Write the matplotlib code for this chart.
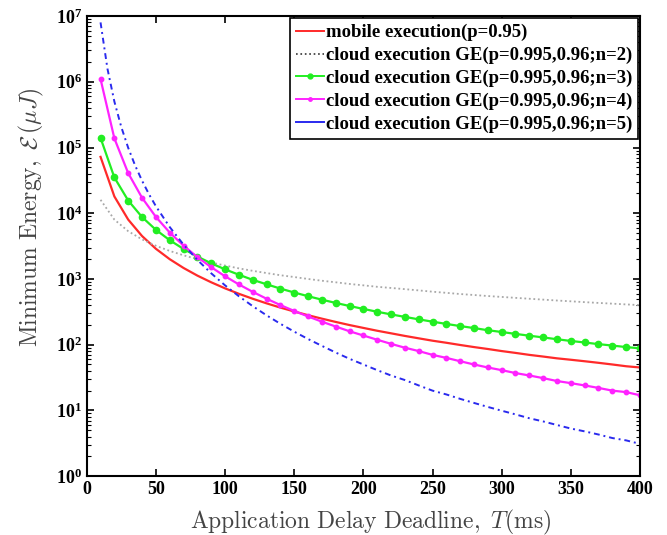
import matplotlib

matplotlib.use("Agg")

import matplotlib.pyplot as plt
from matplotlib.lines import Line2D
from matplotlib.ticker import LogLocator, NullFormatter, MultipleLocator

# deadline T (ms), one sample every 10 ms
deadline_ms = [10, 20, 30, 40, 50, 60, 70, 80, 90, 100,
               110, 120, 130, 140, 150, 160, 170, 180, 190, 200,
               210, 220, 230, 240, 250, 260, 270, 280, 290, 300,
               310, 320, 330, 340, 350, 360, 370, 380, 390, 400]

# values (log scale, uJ)
mobile_p095 = [72000, 18000, 8000, 4500, 2880, 2000, 1470, 1125, 890, 720,
               595, 500, 426, 367, 320, 281, 249, 222, 199, 180,
               163, 149, 136, 125, 115, 107, 99, 92, 86, 80,
               75, 70, 66, 62, 59, 56, 53, 50, 47, 45]
cloud_n2 = [16000, 8000, 5330, 4000, 3200, 2670, 2290, 2000, 1780, 1600,
            1450, 1330, 1230, 1140, 1070, 1000, 940, 890, 840, 800,
            760, 730, 700, 670, 640, 615, 590, 570, 550, 533,
            516, 500, 485, 470, 457, 444, 432, 421, 410, 400]
cloud_n3 = [140000, 35000, 15600, 8750, 5600, 3890, 2860, 2190, 1730, 1400,
            1160, 970, 830, 714, 622, 547, 484, 432, 388, 350,
            317, 289, 265, 243, 224, 207, 192, 179, 166, 156,
            146, 137, 129, 121, 114, 108, 102, 97, 92, 88]
cloud_n4 = [1100000, 137500, 40700, 17200, 8800, 5090, 3210, 2150, 1510, 1100,
            826, 637, 501, 401, 326, 269, 224, 189, 160, 138,
            119, 103, 90, 80, 70, 63, 56, 50, 45, 41,
            37, 34, 31, 28, 26, 24, 22, 20, 19, 17]

# n=5 curve is steep near the start, so it was read at 5 ms there
blue_ms = [10, 15, 20, 25, 30, 35, 40, 45, 50, 60, 70, 80, 90, 100,
           110, 120, 130, 140, 150, 160, 170, 180, 190, 200,
           210, 220, 230, 240, 250, 260, 270, 280, 290, 300,
           310, 320, 330, 340, 350, 360, 370, 380, 390, 400]
cloud_n5 = [8000000, 1580000, 500000, 205000, 98800, 53300, 31300, 19500, 12800, 6170,
            3330, 1950, 1220, 800,
            546, 386, 280, 208, 158, 122, 96, 76, 61, 50,
            41, 34, 29, 24, 20, 17.5, 15, 13, 11.3, 9.9,
            8.7, 7.6, 6.8, 6.0, 5.3, 4.8, 4.3, 3.8, 3.5, 3.1]

labels = [
    "mobile execution(p=0.95)",
    "cloud execution GE(p=0.995,0.96;n=2)",
    "cloud execution GE(p=0.995,0.96;n=3)",
    "cloud execution GE(p=0.995,0.96;n=4)",
    "cloud execution GE(p=0.995,0.96;n=5)",
]

plt.rcParams["font.family"] = ["Liberation Serif", "DejaVu Serif"]
plt.rcParams["mathtext.fontset"] = "cm"

fig = plt.figure(figsize=(6.67, 5.35), dpi=100)
ax = fig.add_axes([0.130, 0.110, 0.8295, 0.860])

ax.plot(deadline_ms, mobile_p095, color="#ff2a2a", lw=1.6)
ax.plot(deadline_ms, cloud_n2, color="#a8a8a8", lw=1.3, ls=(0, (1, 1.5)))
ax.plot(deadline_ms, cloud_n3, color="#22ee22", lw=1.6, marker="o", ms=4.5)
ax.plot(deadline_ms, cloud_n4, color="#ff22ff", lw=1.6, marker="o", ms=3.2)
ax.plot(blue_ms, cloud_n5, color="#2a2aee", lw=1.4, ls=(0, (3, 2, 1, 2)))

handles = [
    Line2D([], [], color="#ff2a2a", lw=1.4),
    Line2D([], [], color="#333333", lw=1.2, ls=":"),
    Line2D([], [], color="#22ee22", lw=1.4, marker="o", ms=3.5),
    Line2D([], [], color="#ff22ff", lw=1.4, marker="o", ms=2.5),
    Line2D([], [], color="#2a2aee", lw=1.4),
]
leg = ax.legend(handles, labels, loc="upper right",
                prop={"weight": "bold", "size": 13.5}, fancybox=False,
                edgecolor="black", framealpha=1, handlelength=1.5,
                handletextpad=0.1, borderaxespad=0.12, borderpad=0.3,
                labelspacing=0.3)
leg.get_frame().set_linewidth(1.2)

ax.set_yscale("log")
ax.set_xlim(0, 400)
ax.set_ylim(1, 1e7)
ax.xaxis.set_major_locator(MultipleLocator(50))
ax.yaxis.set_major_locator(LogLocator(base=10, numticks=10))
ax.yaxis.set_minor_locator(LogLocator(base=10, subs=range(2, 10), numticks=10))
ax.yaxis.set_minor_formatter(NullFormatter())

ax.tick_params(which="both", direction="in", top=True, right=True)
ax.tick_params(which="major", length=5, width=1.2, labelsize=13)
ax.tick_params(which="minor", length=3, width=0.8)
for lab in ax.get_xticklabels() + ax.get_yticklabels():
    lab.set_fontweight("bold")
for spine in ax.spines.values():
    spine.set_linewidth(1.5)

ax.set_xlabel(r"$\mathrm{Application\ Delay\ Deadline,}\ T\mathrm{(ms)}$",
              fontsize=17, color="#444444")
ax.set_ylabel(r"$\mathrm{Minimum\ Energy,}\ \mathcal{E}\,(\mu J)$",
              fontsize=17, color="#444444")
ax.xaxis.set_label_coords(0.514, -0.068)
ax.yaxis.set_label_coords(-0.074, 0.563)

fig.savefig("out.png", dpi=100)
